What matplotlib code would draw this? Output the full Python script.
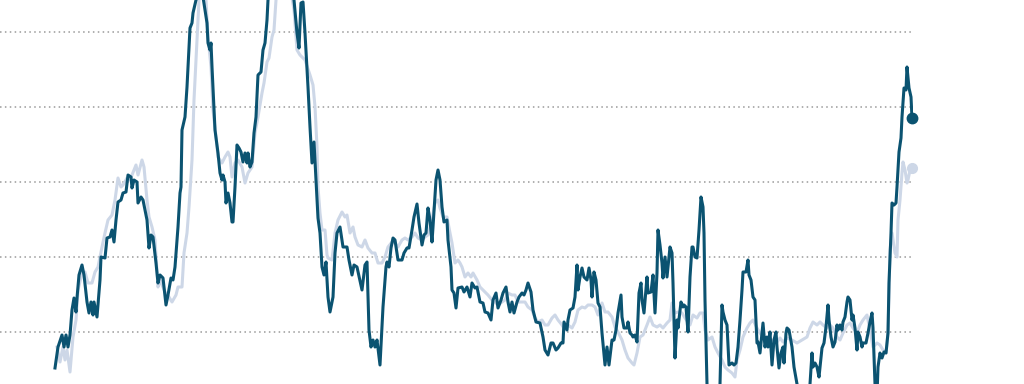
import matplotlib
matplotlib.use("Agg")
import matplotlib.pyplot as plt

# months since start of series, index value (gridlines every 75 points)
dark_month = [
    0, 1.5, 3.5, 4.5, 5.5, 6.5, 7.5, 8.5, 9.5, 10.5, 11, 12, 13.5, 14.5, 16, 17, 18, 19, 19.5, 21,
    22.5, 23, 25, 26, 27.5, 28.5, 29.5, 30.5, 31.5, 33, 34, 35.5, 36.5, 38, 38.5, 39.5, 41, 41.5, 43, 44,
    46, 47, 48, 49, 50.5, 51.5, 52.5, 54, 55.5, 56.5, 58, 59, 60, 61.5, 62.5, 63, 63.5, 65, 66, 67.5,
    68.5, 69, 70.5, 72, 74, 76, 76.5, 77.5, 78, 78.5, 80, 81.5, 82.5, 83.5, 84, 85, 85.5, 86.5, 87.5, 88.5,
    89, 90, 91, 92, 93, 94, 95, 96, 96.5, 97.5, 98.5, 99.5, 100.5, 101.5, 103, 104, 105, 106, 106.5, 108.5,
    117.5, 119.5, 121, 122, 123, 124, 125, 126.5, 127.5, 128.5, 129.5, 130.5, 131.5, 132.5, 133.5, 134.5, 135.5, 136.5, 137.5, 139,
    140, 141, 142.5, 144, 146, 147, 148.5, 149.5, 151, 153.5, 155, 156, 157, 158, 159, 160, 161, 162.5, 164, 165.5,
    166, 167, 168, 169, 170, 171.5, 173.5, 174.5, 176, 177, 178.5, 179.5, 181, 182, 183.5, 184.5, 185.5, 186.5, 187.5, 188.5,
    189, 190.5, 191.5, 192.5, 193.5, 194.5, 196, 196.5, 198, 198.5, 199.5, 200.5, 201.5, 203.5, 204.5, 206, 207.5, 208.5, 210, 211,
    212.5, 214, 215, 216.5, 218, 219, 220.5, 221.5, 223, 224, 225.5, 226.5, 227.5, 228.5, 229.5, 231, 232, 233.5, 234.5, 235.5,
    236.5, 238, 239, 240.5, 242.5, 244, 245, 246.5, 248, 249, 250.5, 251.5, 253, 254, 254.5, 256, 256.5, 257.5, 259, 260,
    261, 261.5, 262.5, 263.5, 264.5, 266, 267, 268, 268.5, 269.5, 270.5, 271.5, 272.5, 273.5, 275, 276, 277, 278.5, 279.5, 280.5,
    281.5, 283, 283.5, 284.5, 286, 286.5, 287.5, 288.5, 289, 290, 291, 292, 293, 293.5, 294.5, 296, 296.5, 298, 299, 300,
    301, 301.5, 302.5, 303.5, 304, 305, 306, 306.5, 307.5, 308.5, 309, 310, 311, 311.5, 313, 314, 314.5, 315.5, 316.5, 317.5,
    318.5, 319, 320, 321, 322, 323, 324, 324.5, 325, 326, 327.5, 331, 332.5, 333.5, 334, 335, 336, 337, 338.5, 339.5,
    340.5, 341.5, 342.5, 343.5, 344, 345.5, 346.5, 347, 348, 349, 350, 351, 351.5, 352.5, 353.5, 354, 355, 356, 356.5, 357.5,
    358.5, 359.5, 360.5, 361, 362, 363, 364, 364.5, 365.5, 366, 367, 368.5, 369.5, 371, 374, 376.5, 377.5, 378.5, 379, 380,
    381, 382, 383, 383.5, 384.5, 385.5, 386.5, 387, 388, 389, 390, 391, 391.5, 392.5, 393.5, 394, 395, 396, 396.5, 397.5,
    398.5, 399, 400, 401, 401.5, 402.5, 403.5, 404, 405.5, 406.5, 407.5, 408.5, 409, 410, 411, 411.5, 412.5, 413.5, 414.5, 415.5,
    416.5, 417, 418, 418.5, 419.5, 420.5, 421, 422, 423, 423.5, 424.5, 425.5, 426, 427, 428, 428.5,
]
dark_value = [
    -36, -15, -3, -15, -3, -15, -3, 22, 34, 20, 34, 57, 67, 57, 30, 19, 30, 17, 30, 15,
    52, 75, 74, 94, 95, 102, 90, 112, 130, 132, 139, 140, 157, 155, 144, 152, 150, 129, 135, 132,
    112, 84, 97, 95, 69, 49, 57, 54, 27, 37, 54, 52, 65, 105, 139, 145, 202, 215, 245, 304,
    309, 319, 332, 338, 335, 309, 289, 282, 289, 265, 202, 179, 159, 152, 157, 150, 129, 139, 129, 110,
    110, 145, 187, 184, 180, 170, 179, 169, 179, 165, 170, 199, 215, 257, 260, 282, 289, 312, 332, 347,
    347, 332, 299, 284, 329, 330, 299, 245, 205, 169, 190, 152, 114, 99, 65, 57, 70, 35, 20, 35,
    79, 99, 105, 85, 85, 72, 57, 67, 65, 42, 67, 70, 2, -15, -8, -15, -8, -33, 25, 65,
    70, 65, 84, 94, 92, 72, 72, 79, 84, 84, 102, 115, 128, 109, 87, 97, 99, 124, 112, 90,
    105, 152, 162, 152, 125, 110, 112, 92, 65, 42, 39, 24, 44, 45, 40, 45, 35, 49, 44, 45,
    30, 29, 20, 19, 12, 32, 39, 24, 32, 39, 45, 30, 20, 30, 19, 30, 35, 39, 37, 42,
    49, 40, 22, 10, 9, -5, -18, -23, -11, -11, -18, -16, -11, -11, 10, 2, 12, 22, 24, 35,
    67, 42, 55, 64, 55, 52, 64, 52, 35, 60, 52, 29, 25, -1, -33, -15, -33, -8, -8, 2,
    19, 37, 15, 4, 4, 10, -1, -3, -5, -3, -10, 39, 49, 32, 19, 55, 39, 40, 57, 19,
    59, 102, 87, 69, 54, 75, 55, 65, 85, 79, 49, -26, 12, 4, 30, 25, 27, 25, 0, 55,
    85, 85, 75, 74, 102, 135, 125, 99, 32, -52, -68, -68, -52, 27, 20, 12, 7, -33, -31, -33,
    -31, -15, 12, 42, 60, 60, 72, 57, 52, 35, 32, -11, -10, -21, -1, 9, -15, -5, -15, 0,
    -33, -8, 0, -15, -36, -21, -15, -31, -1, 4, 2, -15, -35, -52, -68, -63, -52, -21, -35, -31,
    -35, -45, -25, -16, -11, 5, 27, 12, -5, -15, -10, 7, 2, 7, 2, 10, 15, 30, 35, 32,
    12, 17, 4, -18, 0, -5, -15, -11, -11, -1, 10, 19, 4, -52, -63, -35, -21, -26, -20, -21,
    -1, 49, 99, 129, 127, 129, 145, 180, 194, 215, 244, 242, 265, 244, 235, 214,
]

light_month = [
    1, 2.5, 4, 5, 6, 7.5, 9, 10.5, 11.5, 13.5, 15, 16.5, 18.5, 20, 21.5, 23.5, 25, 26.5, 28.5, 30,
    31.5, 33, 34, 36, 37.5, 39.5, 40.5, 41.5, 43.5, 44.5, 46, 47, 48.5, 50, 51.5, 52.5, 55, 57, 58.5, 60.5,
    61.5, 63.5, 64.5, 66, 67, 68.5, 69.5, 71, 72, 74.5, 75.5, 76.5, 78, 79, 80.5, 81.5, 83.5, 85, 86.5, 87.5,
    88.5, 90, 91.5, 93.5, 95, 96.5, 98.5, 100, 101.5, 103.5, 104.5, 106, 107, 108.5, 109.5, 110.5, 112.5, 117.5, 119.5, 121,
    122.5, 125, 127.5, 129, 130, 131, 131.5, 132.5, 133.5, 135, 136, 136.5, 138.5, 140, 141.5, 143.5, 145, 146, 147.5, 149,
    150, 151.5, 153.5, 155, 156.5, 158.5, 160, 161.5, 163.5, 165, 166.5, 168.5, 170, 171.5, 173.5, 175, 176.5, 178.5, 180, 181.5,
    183.5, 185, 186.5, 188.5, 190, 191.5, 192.5, 194, 196, 197.5, 198.5, 200, 201.5, 202.5, 203.5, 205, 206.5, 208, 209, 211,
    212.5, 214, 216.5, 218.5, 220, 221.5, 223.5, 225, 226.5, 228.5, 230, 231.5, 233.5, 235, 236.5, 238.5, 240, 241.5, 243.5, 245,
    246.5, 248.5, 250, 251.5, 253.5, 255, 256.5, 258.5, 260, 261.5, 263.5, 265, 266.5, 268.5, 270, 271.5, 273.5, 275, 276.5, 278.5,
    280, 281.5, 283.5, 285, 286.5, 288.5, 289.5, 291, 292.5, 294, 296, 297.5, 299, 301, 302.5, 304, 306, 307.5, 308.5, 310,
    311.5, 313.5, 315, 317.5, 319, 321, 322.5, 324, 325, 326.5, 328.5, 330, 331.5, 333.5, 335, 336.5, 338.5, 340, 341, 342.5,
    344, 346, 347.5, 349, 351, 352.5, 354, 356, 357.5, 359, 361, 362.5, 364, 366, 368.5, 371, 373.5, 376, 377.5, 379,
    381, 382.5, 384, 386, 387.5, 389, 391, 392.5, 394, 396, 397.5, 399, 401, 402.5, 404, 406, 407.5, 409, 411, 412.5,
    414, 415.5, 416.5, 417.5, 418.5, 420, 421, 421.5, 422.5, 423.5, 424, 425, 426, 426.5, 427.5, 428.5,
]
light_value = [
    -15, -30, -15, -28, -18, -40, -5, 12, 42, 59, 60, 49, 49, 60, 65, 85, 99, 112, 117, 132,
    154, 145, 147, 154, 152, 162, 167, 157, 172, 165, 132, 115, 105, 92, 45, 52, 40, 35, 30, 37,
    45, 45, 79, 99, 125, 172, 232, 292, 332, 342, 332, 295, 265, 222, 195, 175, 169, 175, 180, 175,
    155, 169, 172, 165, 149, 159, 165, 199, 215, 239, 249, 270, 274, 295, 302, 332, 347, 347, 322, 282,
    277, 272, 257, 247, 225, 185, 145, 119, 102, 102, 77, 74, 72, 99, 112, 120, 115, 117, 99, 105,
    95, 87, 85, 92, 84, 79, 79, 69, 69, 75, 85, 90, 89, 85, 92, 94, 92, 95, 99, 94,
    92, 95, 97, 112, 129, 132, 124, 115, 115, 99, 89, 69, 72, 69, 65, 55, 59, 55, 59, 52,
    45, 42, 37, 32, 30, 27, 30, 32, 39, 37, 37, 30, 30, 30, 25, 22, 14, 10, 12, 7,
    7, 14, 17, 12, 7, 2, 7, 4, 10, 22, 25, 24, 27, 27, 25, 17, 29, 20, 20, 15,
    5, 0, -8, -18, -26, -31, -33, -21, -5, -3, 7, 15, 7, 5, 7, 4, 9, 12, 29, 19,
    20, 19, 14, 7, 17, 14, 19, 19, 2, -8, -5, -15, -21, -28, -35, -38, -41, -45, -28, -18,
    -5, 4, 9, 12, 4, -1, -5, -6, -8, -8, -10, -6, -10, -6, -8, -11, -8, -5, 4, 10,
    7, 10, 7, 4, 7, 4, -5, -8, -1, 7, 9, 4, -1, 7, 12, 17, 2, -15, -11, -13,
    -18, -21, -1, 82, 99, 79, 75, 112, 132, 159, 170, 162, 149, 152, 162, 164,
]

GRID_LEVELS = [0, 75, 150, 225, 300]

DARK = "#0b5371"
LIGHT = "#cdd7e7"

fig = plt.figure(figsize=(10.24, 3.84), dpi=100)
ax = fig.add_axes([0, 0, 913 / 1024, 1])

ax.plot(light_month, light_value, color=LIGHT, lw=2.2, solid_joinstyle="round", zorder=2)
ax.plot(dark_month, dark_value, color=DARK, lw=2.2, solid_joinstyle="round", zorder=3)

ax.plot(light_month[-1], light_value[-1], "o", color=LIGHT, ms=7, clip_on=False, zorder=4)
ax.plot(dark_month[-1], dark_value[-1], "o", color=DARK, ms=7.5, clip_on=False, zorder=5)

ax.set_xlim(-27.5, 429)
ax.set_ylim(-52, 332)
ax.set_yticks(GRID_LEVELS)
ax.yaxis.grid(True, color="#9a9a9a", linestyle=(0, (1, 2.2)), linewidth=1.1)
ax.set_axisbelow(True)
ax.tick_params(left=False, bottom=False, labelleft=False, labelbottom=False)
ax.set_xticks([])
for s in ax.spines.values():
    s.set_visible(False)

fig.savefig("out.png", dpi=100)
